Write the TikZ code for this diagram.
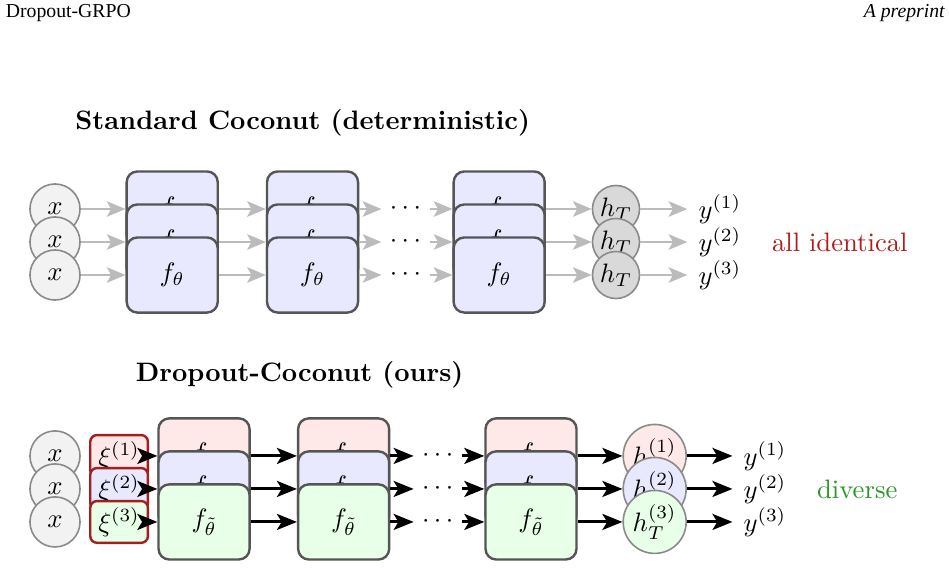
\documentclass[tikz,border=0pt]{standalone}
\usepackage{amsmath}
\usepackage{fontspec}
\IfFontExistsTF{Liberation Serif}
  {\newfontfamily\headerfont{Liberation Serif}}
  {\newfontfamily\headerfont{DejaVu Serif}}
\usetikzlibrary{arrows.meta,positioning}
\definecolor{boxedge}{HTML}{555555}
\definecolor{circlegray}{HTML}{8A8A8A}
\definecolor{inputfill}{HTML}{F2F2F2}
\definecolor{headfill}{HTML}{D9D9D9}
\definecolor{flowgray}{HTML}{BBBBBB}
\definecolor{noiseedge}{HTML}{A31F1F}
\definecolor{layerblue}{HTML}{E8E8FF}
\definecolor{layerred}{HTML}{FFE8E8}
\definecolor{layergreen}{HTML}{E8FFE8}
\definecolor{samecolor}{HTML}{B01C1C}
\definecolor{diversecolor}{HTML}{2A962A}
\tikzset{
  inputnode/.style={
    circle,
    draw=circlegray,
    fill=inputfill,
    line width=0.6pt,
    minimum size=0.66cm,
    inner sep=0pt
  },
  headnode/.style={
    circle,
    draw=circlegray,
    fill=headfill,
    line width=0.6pt,
    minimum size=0.62cm,
    inner sep=0pt
  },
  drophead/.style={headnode,minimum size=0.83cm},
  layerbox/.style={
    draw=boxedge,
    fill=layerblue,
    line width=0.9pt,
    rounded corners=4pt,
    minimum width=1.20cm,
    minimum height=0.99cm,
    inner sep=0pt
  },
  noisebox/.style={
    draw=noiseedge,
    line width=0.9pt,
    rounded corners=2.5pt,
    minimum width=0.76cm,
    minimum height=0.55cm,
    inner sep=0pt
  },
  dotsnode/.style={inner sep=3pt},
  outlabel/.style={inner sep=4pt},
  sectiontitle/.style={font=\bfseries},
  headertext/.style={inner sep=0pt,font=\headerfont\fontsize{7.4}{9}\selectfont},
  headeritalic/.style={inner sep=0pt,font=\headerfont\itshape\fontsize{7.4}{9}\selectfont},
  detflow/.style={
    -{Stealth[length=7pt,width=5.8pt,inset=1.6pt]},
    draw=flowgray,
    line width=0.8pt
  },
  dropflow/.style={
    -{Stealth[length=7.5pt,width=6pt,inset=1.8pt]},
    draw=black,
    line width=1.1pt
  }
}
\begin{document}
\begin{tikzpicture}
  \useasboundingbox (0,0) rectangle (12.51,-7.49);

  % Page header.
  \node[headertext,anchor=west] (runhead) at (0.07,-0.17) {Dropout-GRPO};
  \node[headeritalic,anchor=east] (preprint) at (12.46,-0.17) {A preprint};

  % Standard (deterministic) rollout.
  \node[sectiontitle] (toptitle) at (3.99,-1.62) {Standard Coconut (deterministic)};

  \node[inputnode] (in1) at (0.725,-2.755) {\(x\)};
  \node[inputnode] (in2) at (0.725,-3.19) {\(x\)};
  \node[inputnode] (in3) at (0.725,-3.625) {\(x\)};

  \node[layerbox] (t1a) at (2.27,-2.755) {\(f_\theta\)};
  \node[layerbox] (t1b) at (2.27,-3.19) {\(f_\theta\)};
  \node[layerbox] (t1c) at (2.27,-3.625) {\(f_\theta\)};

  \node[layerbox] (t2a) at (4.12,-2.755) {\(f_\theta\)};
  \node[layerbox] (t2b) at (4.12,-3.19) {\(f_\theta\)};
  \node[layerbox] (t2c) at (4.12,-3.625) {\(f_\theta\)};

  \node[dotsnode] (dots1) at (5.345,-2.755) {\(\cdots\)};
  \node[dotsnode] (dots2) at (5.345,-3.19) {\(\cdots\)};
  \node[dotsnode] (dots3) at (5.345,-3.625) {\(\cdots\)};

  \node[layerbox] (t3a) at (6.58,-2.755) {\(f_\theta\)};
  \node[layerbox] (t3b) at (6.58,-3.19) {\(f_\theta\)};
  \node[layerbox] (t3c) at (6.58,-3.625) {\(f_\theta\)};

  \node[headnode] (hd1) at (8.12,-2.755) {\(h_T\)};
  \node[headnode] (hd2) at (8.12,-3.19) {\(h_T\)};
  \node[headnode] (hd3) at (8.12,-3.625) {\(h_T\)};

  \node[outlabel,right=0.62cm of hd1] (out1) {\(y^{(1)}\)};
  \node[outlabel,right=0.62cm of hd2] (out2) {\(y^{(2)}\)};
  \node[outlabel,right=0.62cm of hd3] (out3) {\(y^{(3)}\)};

  \node[text=samecolor] (same) at (11.07,-3.19) {all identical};

  \draw[detflow] (in1.east) -- (t1a.west);
  \draw[detflow] (in2.east) -- (t1b.west);
  \draw[detflow] (in3.east) -- (t1c.west);
  \draw[detflow] (t1a.east) -- (t2a.west);
  \draw[detflow] (t1b.east) -- (t2b.west);
  \draw[detflow] (t1c.east) -- (t2c.west);
  \draw[detflow] (t2a.east) -- (dots1.west);
  \draw[detflow] (t2b.east) -- (dots2.west);
  \draw[detflow] (t2c.east) -- (dots3.west);
  \draw[detflow] (dots1.east) -- (t3a.west);
  \draw[detflow] (dots2.east) -- (t3b.west);
  \draw[detflow] (dots3.east) -- (t3c.west);
  \draw[detflow] (t3a.east) -- (hd1.west);
  \draw[detflow] (t3b.east) -- (hd2.west);
  \draw[detflow] (t3c.east) -- (hd3.west);
  \draw[detflow] (hd1.east) -- (out1.west);
  \draw[detflow] (hd2.east) -- (out2.west);
  \draw[detflow] (hd3.east) -- (out3.west);

  % Dropout rollout, one noise mask per row.
  \node[sectiontitle] (droptitle) at (3.95,-4.94) {Dropout-Coconut (ours)};

  \node[inputnode] (din1) at (0.725,-6.01) {\(x\)};
  \node[inputnode] (din2) at (0.725,-6.445) {\(x\)};
  \node[inputnode] (din3) at (0.725,-6.88) {\(x\)};

  \node[noisebox,fill=layerred] (xi1) at (1.57,-6.01) {\(\xi^{(1)}\)};
  \node[noisebox,fill=layerblue] (xi2) at (1.57,-6.445) {\(\xi^{(2)}\)};
  \node[noisebox,fill=layergreen] (xi3) at (1.57,-6.88) {\(\xi^{(3)}\)};

  \node[layerbox,fill=layerred] (d1a) at (2.69,-6.01) {\(f_{\tilde\theta}\)};
  \node[layerbox,fill=layerblue] (d1b) at (2.69,-6.445) {\(f_{\tilde\theta}\)};
  \node[layerbox,fill=layergreen] (d1c) at (2.69,-6.88) {\(f_{\tilde\theta}\)};

  \node[layerbox,fill=layerred] (d2a) at (4.53,-6.01) {\(f_{\tilde\theta}\)};
  \node[layerbox,fill=layerblue] (d2b) at (4.53,-6.445) {\(f_{\tilde\theta}\)};
  \node[layerbox,fill=layergreen] (d2c) at (4.53,-6.88) {\(f_{\tilde\theta}\)};

  \node[dotsnode] (ddots1) at (5.77,-6.01) {\(\cdots\)};
  \node[dotsnode] (ddots2) at (5.77,-6.445) {\(\cdots\)};
  \node[dotsnode] (ddots3) at (5.77,-6.88) {\(\cdots\)};

  \node[layerbox,fill=layerred] (d3a) at (7.00,-6.01) {\(f_{\tilde\theta}\)};
  \node[layerbox,fill=layerblue] (d3b) at (7.00,-6.445) {\(f_{\tilde\theta}\)};
  \node[layerbox,fill=layergreen] (d3c) at (7.00,-6.88) {\(f_{\tilde\theta}\)};

  \node[drophead,fill=layerred] (dh1) at (8.63,-6.01) {\(h_T^{(1)}\)};
  \node[drophead,fill=layerblue] (dh2) at (8.63,-6.445) {\(h_T^{(2)}\)};
  \node[drophead,fill=layergreen] (dh3) at (8.63,-6.88) {\(h_T^{(3)}\)};

  \node[outlabel,right=0.6cm of dh1] (dout1) {\(y^{(1)}\)};
  \node[outlabel,right=0.6cm of dh2] (dout2) {\(y^{(2)}\)};
  \node[outlabel,right=0.6cm of dh3] (dout3) {\(y^{(3)}\)};

  \node[text=diversecolor] (diverse) at (11.30,-6.445) {diverse};

  \draw[dropflow] (xi1.east) -- (d1a.west);
  \draw[dropflow] (xi2.east) -- (d1b.west);
  \draw[dropflow] (xi3.east) -- (d1c.west);
  \draw[dropflow] (d1a.east) -- (d2a.west);
  \draw[dropflow] (d1b.east) -- (d2b.west);
  \draw[dropflow] (d1c.east) -- (d2c.west);
  \draw[dropflow] (d2a.east) -- (ddots1.west);
  \draw[dropflow] (d2b.east) -- (ddots2.west);
  \draw[dropflow] (d2c.east) -- (ddots3.west);
  \draw[dropflow] (ddots1.east) -- (d3a.west);
  \draw[dropflow] (ddots2.east) -- (d3b.west);
  \draw[dropflow] (ddots3.east) -- (d3c.west);
  \draw[dropflow] (d3a.east) -- (dh1.west);
  \draw[dropflow] (d3b.east) -- (dh2.west);
  \draw[dropflow] (d3c.east) -- (dh3.west);
  \draw[dropflow] (dh1.east) -- (dout1.west);
  \draw[dropflow] (dh2.east) -- (dout2.west);
  \draw[dropflow] (dh3.east) -- (dout3.west);

\end{tikzpicture}
\end{document}
